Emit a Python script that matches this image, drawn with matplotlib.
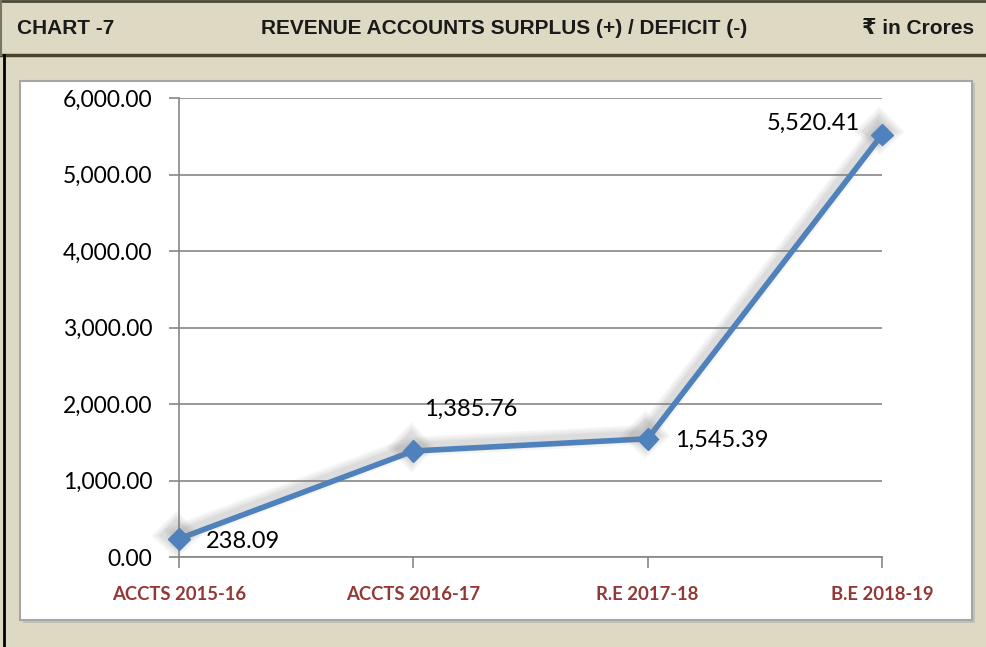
import matplotlib.pyplot as plt
import matplotlib.patheffects as pe
from matplotlib.patches import Rectangle
from matplotlib.lines import Line2D

categories = ['ACCTS 2015-16', 'ACCTS 2016-17', 'R.E 2017-18', 'B.E 2018-19']
values = [238.09, 1385.76, 1545.39, 5520.41]
yticks = [0, 1000, 2000, 3000, 4000, 5000, 6000]

W, H = 986, 647
fig = plt.figure(figsize=(W / 100, H / 100), dpi=100)
fig.patch.set_facecolor('#DDD9C3')

def fx(px):
    return px / W

def fy(py):
    return 1 - py / H

# header band borders
fig.add_artist(Line2D([0, 1], [fy(1), fy(1)], color='#4A4A3A', lw=2, zorder=-1))
fig.add_artist(Line2D([0, 1], [fy(55), fy(55)], color='#4A452A', lw=2.5, zorder=-1))
fig.add_artist(Line2D([fx(1), fx(1)], [fy(0), fy(55)], color='#777766', lw=1.5, zorder=-1))
fig.add_artist(Line2D([fx(4), fx(4)], [fy(55), 0], color='black', lw=2, zorder=-1))

hdr = dict(fontsize=15, fontweight='bold', color='#1a1a1a', va='center',
           family=['Liberation Sans', 'DejaVu Sans'])
fig.text(fx(17), fy(29), 'CHART -7', ha='left', **hdr)
fig.text(fx(504), fy(29), 'REVENUE ACCOUNTS SURPLUS (+) / DEFICIT (-)', ha='center', **hdr)
fig.text(fx(974), fy(29), '₹ in Crores', ha='right', **hdr)

# white chart panel
fig.add_artist(Rectangle((fx(23), fy(623)), fx(952), fy(83) - fy(623), facecolor='#B0B0B0',
                         edgecolor='none', alpha=0.6, zorder=-2))
fig.add_artist(Rectangle((fx(20), fy(620)), fx(952), fy(81) - fy(620), facecolor='white',
                         edgecolor='#A6A6A6', lw=1.5, zorder=-1))

ax = fig.add_axes([fx(179), fy(557), fx(882) - fx(179), fy(98) - fy(557)])
ax.set_zorder(5)
ax.set_facecolor('none')
x = list(range(len(categories)))

# soft shadow (stacked translucent strokes)
shadow = [pe.SimpleLineShadow(offset=(-2, 3), shadow_color='#7f7f7f', alpha=0.07, linewidth=w)
          for w in (14, 11, 8, 6)]
ax.plot(x, values, color='#4F81BD', lw=4, marker='D', markersize=11, zorder=3, clip_on=False,
        path_effects=shadow + [pe.Normal()])

ax.set_xlim(0, 3)
ax.set_ylim(0, 6000)
ax.set_yticks(yticks)
ax.set_yticklabels([f'{v:,.2f}' for v in yticks], fontsize=16.5, family='Lato')
ax.set_xticks(x)
ax.set_xticklabels(categories, fontsize=13.3, fontweight='bold', color='#953735', family='Lato')
ax.grid(axis='y', color='#868686', lw=1.2)
ax.set_axisbelow(True)
for s in ['top', 'right']:
    ax.spines[s].set_visible(False)
for s in ['left', 'bottom']:
    ax.spines[s].set_color('#868686')
    ax.spines[s].set_linewidth(1.2)
ax.tick_params(axis='y', length=7, color='#868686', width=1.2, pad=12)
ax.tick_params(axis='x', length=8, color='#868686', width=1.2, pad=13)

lbl = dict(fontsize=17, family='Lato', color='black')
ax.annotate(f'{values[0]:,.2f}', (0, values[0]), xytext=(19, -2), textcoords='offset points',
            ha='left', va='center', **lbl)
ax.annotate(f'{values[1]:,.2f}', (1, values[1]), xytext=(8, 30), textcoords='offset points',
            ha='left', va='center', **lbl)
ax.annotate(f'{values[2]:,.2f}', (2, values[2]), xytext=(20, -1), textcoords='offset points',
            ha='left', va='center', **lbl)
ax.annotate(f'{values[3]:,.2f}', (3, values[3]), xytext=(-16, 8), textcoords='offset points',
            ha='right', va='center', **lbl)

fig.savefig('out.png', dpi=100, facecolor=fig.get_facecolor())
